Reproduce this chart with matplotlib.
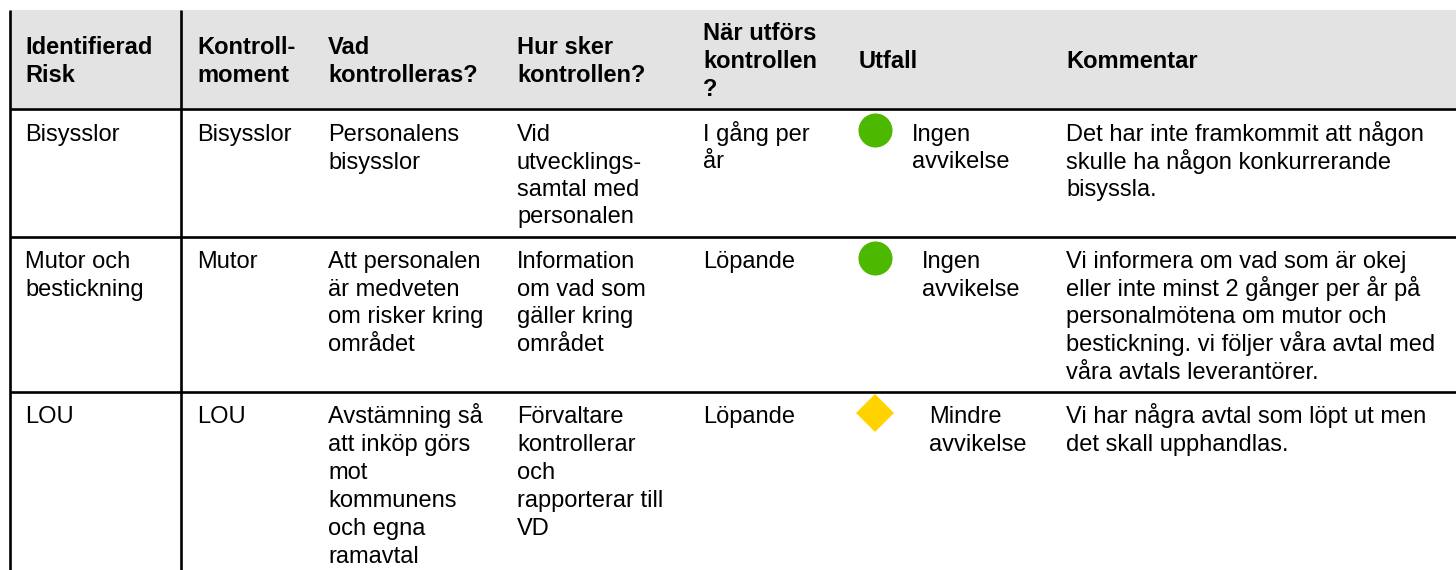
import matplotlib
matplotlib.use("Agg")
import matplotlib.pyplot as plt
from matplotlib.patches import Rectangle

plt.rcParams['font.family'] = ['Liberation Sans', 'DejaVu Sans']

W = 1456
H = 570

headers = ["Identifierad\nRisk", "Kontroll-\nmoment", "Vad\nkontrolleras?", "Hur sker\nkontrollen?",
           "När utförs\nkontrollen\n?", "Utfall", "Kommentar"]
riskCol = ["Bisysslor", "Mutor och\nbestickning", "LOU"]
momentCol = ["Bisysslor", "Mutor", "LOU"]
whatCol = ["Personalens\nbisysslor", "Att personalen\när medveten\nom risker kring\nområdet",
           "Avstämning så\natt inköp görs\nmot\nkommunens\noch egna\nramavtal"]
howCol = ["Vid\nutvecklings-\nsamtal med\npersonalen", "Information\nom vad som\ngäller kring\nområdet",
          "Förvaltare\nkontrollerar\noch\nrapporterar till\nVD"]
whenCol = ["I gång per\når", "Löpande", "Löpande"]
outcomeCol = ["Ingen\navvikelse", "Ingen\navvikelse", "Mindre\navvikelse"]
commentCol = ["Det har inte framkommit att någon\nskulle ha någon konkurrerande\nbisyssla.",
              "Vi informera om vad som är okej\neller inte minst 2 gånger per år på\npersonalmötena om mutor och\nbestickning. vi följer våra avtal med\nvåra avtals leverantörer.",
              "Vi har några avtal som löpt ut men\ndet skall upphandlas."]
markers = ["o", "o", "D"]
markerColors = ["#4CB800", "#4CB800", "#FFD200"]

colX = [25, 197, 328, 517, 703, 859, 1066]
rowBase = [141, 268, 423]
rowPitch = [27.5, 27.7, 28]
headerBase = {1: 68, 2: 54, 3: 40}
headerPitch = 27.8
outcomeX = [912, 922, 929]
markerY = [130, 258, 413]
markerX = 875
rowLines = [109, 237, 392]
colLines = [10, 181]

FS = 17

def putLines(x, base, pitch, s, **kw):
    # one text per line, so the baselines stay evenly spaced
    for i, line in enumerate(s.split("\n")):
        ax.text(x, base + i * pitch, line, fontsize=FS, va="baseline", ha="left", color="black", **kw)

fig = plt.figure(figsize=(W / 100, H / 100), dpi=100)
ax = fig.add_axes([0, 0, 1, 1])
ax.set_xlim(0, W)
ax.set_ylim(H, 0)
ax.axis("off")

ax.add_patch(Rectangle((10, 10), W - 10, 98, color="#E3E3E3", lw=0))

for x in colLines:
    ax.plot([x, x], [10, H], color="black", lw=1.9, solid_capstyle="butt")
for y in rowLines:
    ax.plot([10, W], [y, y], color="black", lw=1.9, solid_capstyle="butt")

for x, s in zip(colX, headers):
    putLines(x, headerBase[s.count("\n") + 1], headerPitch, s, fontweight="bold")

bodyCols = [riskCol, momentCol, whatCol, howCol, whenCol, commentCol]
bodyX = [colX[0], colX[1], colX[2], colX[3], colX[4], colX[6]]
for col, x in zip(bodyCols, bodyX):
    for s, y, p in zip(col, rowBase, rowPitch):
        putLines(x, y, p, s)

for s, x, y, p in zip(outcomeCol, outcomeX, rowBase, rowPitch):
    putLines(x, y, p, s)

for m, c, y in zip(markers, markerColors, markerY):
    ax.plot([markerX], [y], marker=m, color=c, ms=24.5 if m == "o" else 19.2, mew=0, ls="none")

fig.savefig("out.png", dpi=100)
